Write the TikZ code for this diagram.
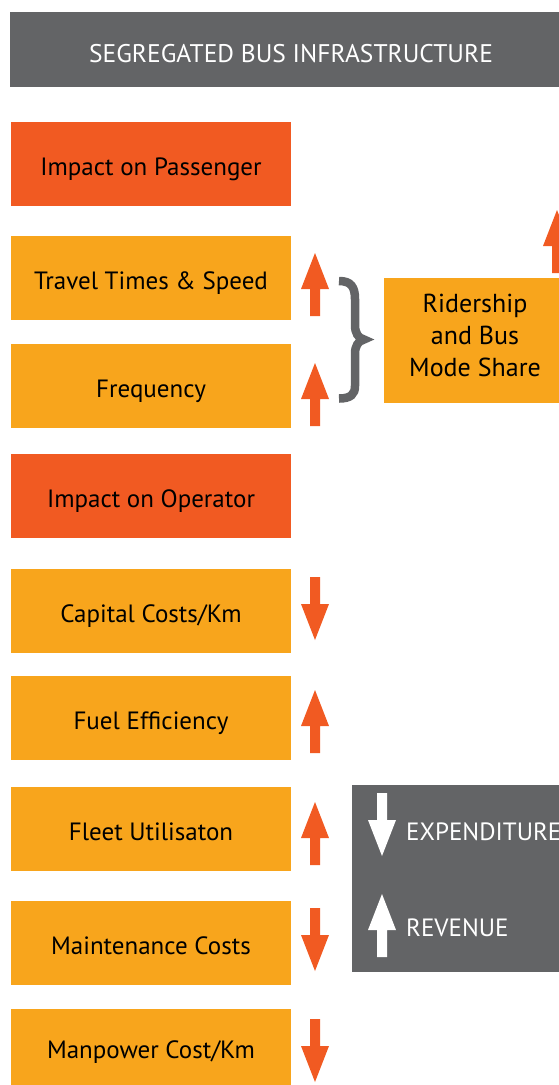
\documentclass[tikz,border=0pt]{standalone}
\usepackage{fontspec}
\setmainfont{PT Sans}
\definecolor{dorange}{HTML}{F15A22}
\definecolor{lorange}{HTML}{F8A51C}
\definecolor{dgray}{HTML}{636466}
\tikzset{
  itembox/.style={rectangle, inner sep=0pt, minimum width=280pt, minimum height=84pt,
    text height=22pt, text depth=0pt, font=\fontsize{25}{30}\selectfont, text=black},
  litem/.style={itembox, fill=lorange},
  ditem/.style={itembox, fill=dorange},
  uparrow/.pic={\fill[pic actions] (0,0) -- (14,36) -- (5,36) -- (5,63) -- (-5,63) -- (-5,36) -- (-14,36) -- cycle;},
  downarrow/.pic={\fill[pic actions] (0,0) -- (14,-36) -- (5,-36) -- (5,-63) -- (-5,-63) -- (-5,-36) -- (-14,-36) -- cycle;},
  wlabel/.style={anchor=base west, inner sep=0pt, text=white, font=\fontsize{25}{28}\selectfont}
}
\begin{document}
\begin{tikzpicture}[x=1pt,y=-1pt]
\useasboundingbox (0,0) rectangle (559,1085);
\begin{scope}
\clip (0,0) rectangle (559,1085);
% header
\node[rectangle, fill=dgray, inner sep=0pt, minimum width=562pt, minimum height=75pt,
  text height=25pt, text depth=0pt, text=white, font=\fontsize{25.5}{30}\selectfont]
  (head) at (291,49.5) {SEGREGATED BUS INFRASTRUCTURE};
% left column
\node[ditem] (pass)  at (151,164)  {Impact on Passenger};
\node[litem] (travel) at (151,278) {Travel Times \& Speed};
\node[litem] (freq)  at (151,386)  {Frequency};
\node[ditem] (oper)  at (151,496)  {Impact on Operator};
\node[litem] (cap)   at (151,611)  {Capital Costs/Km};
\node[litem] (fuel)  at (151,718)  {Fuel Efficiency};
\node[litem] (fleet) at (151,829)  {Fleet Utilisaton};
\node[litem] (maint) at (151,943)  {Maintenance Costs};
\node[litem, minimum height=76pt] (man) at (151,1047) {Manpower Cost/Km};
% arrows
\pic[fill=dorange] at (315,253) {uparrow};
\pic[fill=dorange] at (315,363) {uparrow};
\pic[fill=dorange] at (315,640) {downarrow};
\pic[fill=dorange] at (315,690) {uparrow};
\pic[fill=dorange] at (315,802) {uparrow};
\pic[fill=dorange] at (315,971) {downarrow};
\pic[fill=dorange] at (315,1082) {downarrow};
\pic[fill=dorange] at (557,210) {uparrow};
% brace
\draw[dgray, line width=8.5pt]
  (339,281) .. controls (351,281) and (355,287) .. (355,299)
  -- (355,325) .. controls (355,333) and (358,338) .. (364,339.5)
  .. controls (358,341) and (355,346) .. (355,354)
  -- (355,386) .. controls (355,394) and (351,398.5) .. (339,398.5);
% ridership
\node[rectangle, fill=lorange, inner sep=0pt, minimum width=182pt, minimum height=125pt,
  align=center, text=black, text depth=10pt, font=\fontsize{26}{32}\selectfont]
  (rider) at (475,340.5) {Ridership\\and Bus\\Mode Share};
% expenditure / revenue box
\node[rectangle, fill=dgray, inner sep=0pt, minimum width=220pt, minimum height=187pt]
  (er) at (462,878.5) {};
\pic[fill=white] at (382,856) {downarrow};
\pic[fill=white] at (382,894) {uparrow};
\node[wlabel] (exp) at (406,840) {EXPENDITURE};
\node[wlabel] (rev) at (406,936) {REVENUE};
\end{scope}
\end{tikzpicture}
\end{document}
